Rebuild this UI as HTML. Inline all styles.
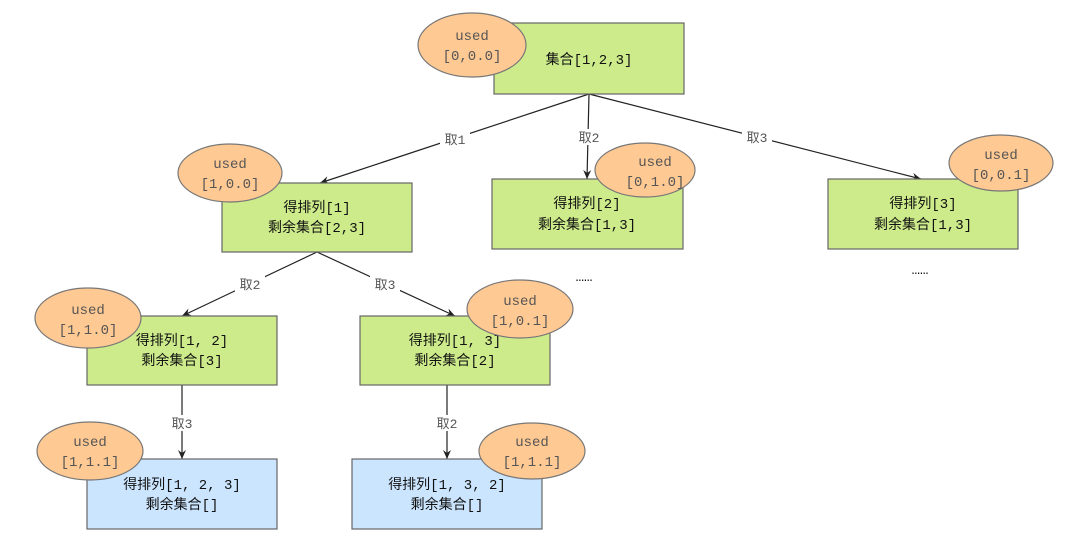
<!DOCTYPE html>
<html><head><meta charset="utf-8"><style>
html,body{margin:0;padding:0;background:#fff;}
svg{display:block}
text{font-family:"Liberation Mono","Noto Sans CJK SC",monospace;}
.b{fill:#cdeb8b;stroke:#666;stroke-width:1.2}
.bl{fill:#cce5ff;stroke:#666;stroke-width:1.2}
.e{fill:#ffc993;stroke:#777;stroke-width:1.2}
.t{font-size:14px;fill:#111;text-anchor:middle}
.u{font-size:14px;fill:#555;text-anchor:middle}
.l{font-size:13px;fill:#555;text-anchor:middle}
line{stroke:#222;stroke-width:1.2}
</style></head><body>
<svg width="1080" height="558" viewBox="0 0 1080 558" xmlns="http://www.w3.org/2000/svg">
<defs><marker id="a" markerWidth="10" markerHeight="10" refX="9" refY="5" orient="auto" markerUnits="userSpaceOnUse"><path d="M0,1 L9,5 L0,9 L3,5 z" fill="#222"/></marker></defs>
<!-- edges -->
<line x1="589" y1="94" x2="320" y2="183" marker-end="url(#a)"/>
<line x1="589" y1="94" x2="587" y2="179" marker-end="url(#a)"/>
<line x1="589" y1="94" x2="921" y2="179" marker-end="url(#a)"/>
<line x1="317" y1="252" x2="182" y2="316" marker-end="url(#a)"/>
<line x1="317" y1="252" x2="455" y2="316" marker-end="url(#a)"/>
<line x1="182" y1="385" x2="182" y2="459" marker-end="url(#a)"/>
<line x1="447" y1="385" x2="447" y2="459" marker-end="url(#a)"/>
<g>
<rect x="440" y="131" width="30" height="16" fill="#fff"/><text class="l" x="455" y="144">取1</text>
<rect x="574" y="129" width="30" height="16" fill="#fff"/><text class="l" x="589" y="142">取2</text>
<rect x="742" y="129" width="30" height="16" fill="#fff"/><text class="l" x="757" y="142">取3</text>
<rect x="235" y="276" width="30" height="16" fill="#fff"/><text class="l" x="250" y="289">取2</text>
<rect x="370" y="276" width="30" height="16" fill="#fff"/><text class="l" x="385" y="289">取3</text>
<rect x="167" y="415" width="30" height="16" fill="#fff"/><text class="l" x="182" y="428">取3</text>
<rect x="432" y="415" width="30" height="16" fill="#fff"/><text class="l" x="447" y="428">取2</text>
</g>
<!-- root -->
<rect class="b" x="494" y="23" width="190" height="71"/>
<text class="t" x="589" y="64">集合[1,2,3]</text>
<ellipse class="e" cx="472" cy="45" rx="54" ry="32"/>
<text class="u" x="472" y="40">used</text><text class="u" x="472" y="60">[0,0.0]</text>
<!-- A -->
<rect class="b" x="222" y="183" width="190" height="69"/>
<text class="t" x="317" y="212">得排列[1]</text><text class="t" x="317" y="232">剩余集合[2,3]</text>
<ellipse class="e" cx="230" cy="173" rx="52" ry="29"/>
<text class="u" x="230" y="168">used</text><text class="u" x="230" y="188">[1,0.0]</text>
<!-- B -->
<rect class="b" x="492" y="179" width="191" height="70"/>
<text class="t" x="587" y="208">得排列[2]</text><text class="t" x="587" y="229">剩余集合[1,3]</text>
<ellipse class="e" cx="645" cy="170" rx="50" ry="27"/>
<text class="u" x="655" y="166">used</text><text class="u" x="655" y="186">[0,1.0]</text>
<!-- C -->
<rect class="b" x="828" y="179" width="190" height="70"/>
<text class="t" x="923" y="208">得排列[3]</text><text class="t" x="923" y="229">剩余集合[1,3]</text>
<ellipse class="e" cx="1001" cy="163" rx="52" ry="28"/>
<text class="u" x="1001" y="159">used</text><text class="u" x="1001" y="179">[0,0.1]</text>
<text class="t" x="584" y="281">……</text>
<text class="t" x="920" y="274">……</text>
<!-- D -->
<rect class="b" x="87" y="316" width="190" height="69"/>
<text class="t" x="182" y="345">得排列[1, 2]</text><text class="t" x="182" y="365">剩余集合[3]</text>
<ellipse class="e" cx="88" cy="318" rx="53" ry="30"/>
<text class="u" x="88" y="314">used</text><text class="u" x="88" y="334">[1,1.0]</text>
<!-- E -->
<rect class="b" x="360" y="316" width="190" height="69"/>
<text class="t" x="455" y="345">得排列[1, 3]</text><text class="t" x="455" y="365">剩余集合[2]</text>
<ellipse class="e" cx="520" cy="309" rx="53" ry="29"/>
<text class="u" x="520" y="305">used</text><text class="u" x="520" y="325">[1,0.1]</text>
<!-- F -->
<rect class="bl" x="87" y="459" width="190" height="70"/>
<text class="t" x="182" y="489">得排列[1, 2, 3]</text><text class="t" x="182" y="509">剩余集合[]</text>
<ellipse class="e" cx="90" cy="451" rx="53" ry="29"/>
<text class="u" x="90" y="446">used</text><text class="u" x="90" y="466">[1,1.1]</text>
<!-- G -->
<rect class="bl" x="352" y="459" width="190" height="70"/>
<text class="t" x="447" y="489">得排列[1, 3, 2]</text><text class="t" x="447" y="509">剩余集合[]</text>
<ellipse class="e" cx="532" cy="451" rx="53" ry="28"/>
<text class="u" x="532" y="446">used</text><text class="u" x="532" y="466">[1,1.1]</text>
</svg>
</body></html>
